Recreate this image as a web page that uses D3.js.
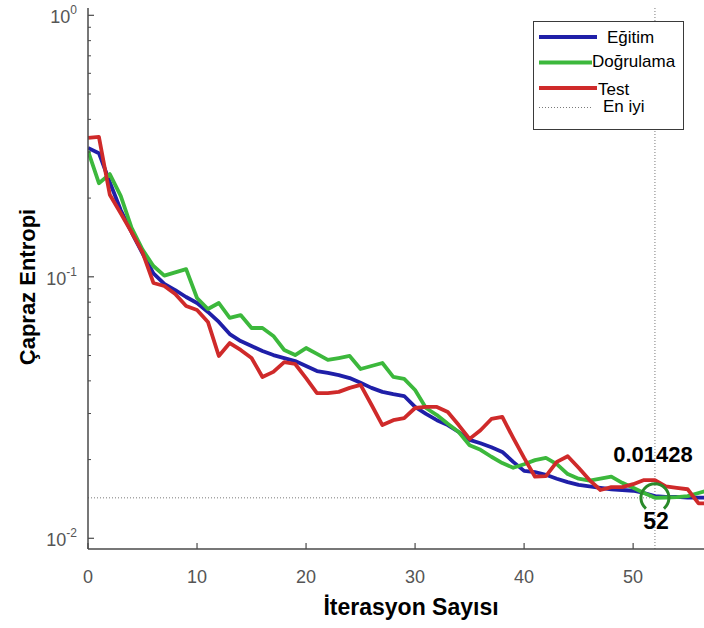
<!DOCTYPE html>
<html>
<head>
<meta charset="utf-8">
<script src="https://cdn.jsdelivr.net/npm/d3@7"></script>
<style>
  html, body { margin: 0; padding: 0; background: #fff; }
  svg { display: block; font-family: "Liberation Sans", Arial, sans-serif; }
</style>
</head>
<body>
<div id="chart"></div>
<script>
// performance values, one per epoch (0..57)
var trainLoss = [0.311, 0.297, 0.230, 0.180, 0.148, 0.123, 0.103, 0.0939, 0.0890, 0.0837,
	0.0794, 0.0734, 0.0672, 0.0604, 0.0568, 0.0544, 0.0520, 0.0502, 0.0489, 0.0476,
	0.0456, 0.0436, 0.0429, 0.0421, 0.0410, 0.0393, 0.0376, 0.0363, 0.0356, 0.0350,
	0.0318, 0.0299, 0.0283, 0.0271, 0.0255, 0.0238, 0.0231, 0.0223, 0.0214, 0.0196,
	0.0181, 0.0179, 0.0175, 0.0169, 0.0164, 0.0160, 0.0158, 0.0156, 0.0154, 0.0153,
	0.0152, 0.0149, 0.0145, 0.0144, 0.0144, 0.0143, 0.0143, 0.0143];
var validLoss = [0.303, 0.228, 0.247, 0.204, 0.154, 0.127, 0.110, 0.101, 0.104, 0.107,
	0.0830, 0.0753, 0.0794, 0.0696, 0.0714, 0.0637, 0.0637, 0.0594, 0.0525, 0.0502,
	0.0534, 0.0507, 0.0481, 0.0489, 0.0498, 0.0444, 0.0456, 0.0468, 0.0414, 0.0407,
	0.0369, 0.0315, 0.0296, 0.0274, 0.0255, 0.0227, 0.0218, 0.0205, 0.0194, 0.0186,
	0.0192, 0.0199, 0.0203, 0.0192, 0.0176, 0.0169, 0.0166, 0.0169, 0.0172, 0.0163,
	0.0156, 0.0149, 0.01428, 0.01432, 0.01436, 0.0145, 0.0149, 0.0153];
var testLoss = [0.340, 0.343, 0.206, 0.175, 0.148, 0.124, 0.0947, 0.0922, 0.0859, 0.0773,
	0.0746, 0.0672, 0.0498, 0.0558, 0.0525, 0.0489, 0.0414, 0.0433, 0.0472, 0.0464,
	0.0410, 0.0359, 0.0359, 0.0363, 0.0376, 0.0386, 0.0324, 0.0271, 0.0283, 0.0288,
	0.0315, 0.0318, 0.0318, 0.0304, 0.0271, 0.0240, 0.0259, 0.0286, 0.0291, 0.0242,
	0.0203, 0.0172, 0.0173, 0.0196, 0.0206, 0.0186, 0.0167, 0.0153, 0.0157, 0.0157,
	0.0161, 0.0167, 0.0167, 0.0158, 0.0156, 0.0154, 0.0136, 0.0136];

var seriesNames = ['Eğitim', 'Doğrulama', 'Test'];
var seriesColors = ['#1f1fa8', '#3cb83c', '#cf2a2a'];
var bestEpoch = 52;
var bestValue = 0.01428;
var bestLabel = '0.01428';
var xTicks = [0, 10, 20, 30, 40, 50];
var yTicks = [1, 0.1, 0.01];
var yTickExp = ['0', '-1', '-2'];

var w = 704, h = 628;
var padL = 88, padR = 704, padT = 8, padB = 549;

var svg = d3.select('#chart').append('svg')
	.attr('width', w)
	.attr('height', h);

svg.append('rect').attr('width', w).attr('height', h).attr('fill', '#fff');

var x = d3.scaleLinear().domain([0, 56.5]).range([padL, padR]);
var y = d3.scaleLog().domain([0.0091, 1.0665]).range([padB, padT]);

svg.append('clipPath').attr('id', 'plotclip')
	.append('rect')
	.attr('x', padL).attr('y', padT)
	.attr('width', padR - padL).attr('height', padB - padT);

// best epoch reference lines
svg.append('line')
	.attr('x1', padL).attr('x2', padR)
	.attr('y1', y(bestValue)).attr('y2', y(bestValue))
	.style('stroke', '#7a7a7a').style('stroke-width', 1)
	.style('stroke-dasharray', '1,2');
svg.append('line')
	.attr('x1', x(bestEpoch)).attr('x2', x(bestEpoch))
	.attr('y1', padT).attr('y2', padB)
	.style('stroke', '#7a7a7a').style('stroke-width', 1)
	.style('stroke-dasharray', '1,2');

var line = d3.line()
	.x(function(d, i) { return x(i); })
	.y(function(d) { return y(d); });

var plot = svg.append('g').attr('clip-path', 'url(#plotclip)');
[trainLoss, validLoss, testLoss].forEach(function(data, k) {
	plot.append('path')
		.datum(data)
		.attr('d', line)
		.style('fill', 'none')
		.style('stroke', seriesColors[k])
		.style('stroke-width', 3.8)
		.style('stroke-linejoin', 'round');
});

// circle on the best validation point (open at the bottom)
svg.append('path')
	.attr('transform', 'translate(' + x(bestEpoch) + ',' + y(bestValue) + ')')
	.attr('d', d3.arc()
		.innerRadius(12.5).outerRadius(15.5)
		.startAngle(-140 * Math.PI / 180).endAngle(140 * Math.PI / 180)())
	.style('fill', '#2a8a2a');

svg.append('text')
	.attr('x', x(bestEpoch) - 2).attr('y', 462)
	.attr('text-anchor', 'middle')
	.style('font-size', '22px').style('font-weight', 'bold')
	.text(bestLabel);
svg.append('text')
	.attr('x', x(bestEpoch) + 1).attr('y', 529)
	.attr('text-anchor', 'middle')
	.style('font-size', '23px').style('font-weight', 'bold')
	.text(bestEpoch);

// axes
var axisColor = '#4a4a4a';
svg.append('line')
	.attr('x1', padL).attr('x2', padL).attr('y1', padT).attr('y2', padB)
	.style('stroke', axisColor).style('stroke-width', 1.5);
svg.append('line')
	.attr('x1', padL).attr('x2', padR).attr('y1', padB).attr('y2', padB)
	.style('stroke', axisColor).style('stroke-width', 1.5);

// minor log ticks
var minor = [];
[0.01, 0.1].forEach(function(base) {
	for (var m = 2; m <= 9; m++) minor.push(base * m);
});
svg.selectAll('line.minor')
	.data(minor)
	.enter().append('line')
		.attr('x1', padL).attr('x2', padL + 3)
		.attr('y1', function(d) { return y(d); })
		.attr('y2', function(d) { return y(d); })
		.style('stroke', axisColor).style('stroke-width', 1);

svg.selectAll('line.ymajor')
	.data(yTicks)
	.enter().append('line')
		.attr('x1', padL).attr('x2', padL + 6)
		.attr('y1', function(d) { return y(d); })
		.attr('y2', function(d) { return y(d); })
		.style('stroke', axisColor).style('stroke-width', 1.2);

var ylab = svg.selectAll('text.ytick')
	.data(yTicks)
	.enter().append('text')
		.attr('x', 77)
		.attr('y', function(d) { return y(d) + 8; })
		.attr('text-anchor', 'end')
		.style('fill', '#555');
ylab.append('tspan').style('font-size', '18px').text('10');
ylab.append('tspan')
	.attr('dy', -9)
	.style('font-size', '12px')
	.text(function(d, i) { return yTickExp[i]; });

svg.selectAll('line.xtick')
	.data(xTicks)
	.enter().append('line')
		.attr('x1', function(d) { return x(d); })
		.attr('x2', function(d) { return x(d); })
		.attr('y1', padB).attr('y2', padB - 6)
		.style('stroke', axisColor).style('stroke-width', 1.2);

svg.selectAll('text.xtick')
	.data(xTicks)
	.enter().append('text')
		.attr('x', function(d) { return x(d); })
		.attr('y', 583)
		.attr('text-anchor', 'middle')
		.style('font-size', '18px')
		.style('fill', '#555')
		.text(function(d) { return d; });

svg.append('text')
	.attr('x', 411).attr('y', 615)
	.attr('text-anchor', 'middle')
	.style('font-size', '23px').style('font-weight', 'bold')
	.text('İterasyon Sayısı');

svg.append('text')
	.attr('transform', 'translate(35,287) rotate(-90)')
	.attr('text-anchor', 'middle')
	.style('font-size', '22px').style('font-weight', 'bold')
	.text('Çapraz Entropi');

// legend
var lg = svg.append('g');
lg.append('rect')
	.attr('x', 533.5).attr('y', 21.5).attr('width', 150).attr('height', 108)
	.style('fill', '#fff').style('stroke', '#3a3a3a').style('stroke-width', 1);

var legendRows = [
	{ name: seriesNames[0], color: seriesColors[0], ly: 37, x2: 597, tx: 607, ty: 43 },
	{ name: seriesNames[1], color: seriesColors[1], ly: 62.5, x2: 592, tx: 592, ty: 67 },
	{ name: seriesNames[2], color: seriesColors[2], ly: 88, x2: 597, tx: 598, ty: 95 },
	{ name: 'En iyi', color: '#7a7a7a', ly: 107.5, x2: 593, tx: 603, ty: 112, dotted: true }
];
legendRows.forEach(function(r) {
	lg.append('line')
		.attr('x1', 539).attr('x2', r.x2)
		.attr('y1', r.ly).attr('y2', r.ly)
		.style('stroke', r.color)
		.style('stroke-width', r.dotted ? 1 : 3.8)
		.style('stroke-dasharray', r.dotted ? '1,2' : null);
	lg.append('text')
		.attr('x', r.tx).attr('y', r.ty)
		.style('font-size', '17px')
		.text(r.name);
});
</script>
</body>
</html>
